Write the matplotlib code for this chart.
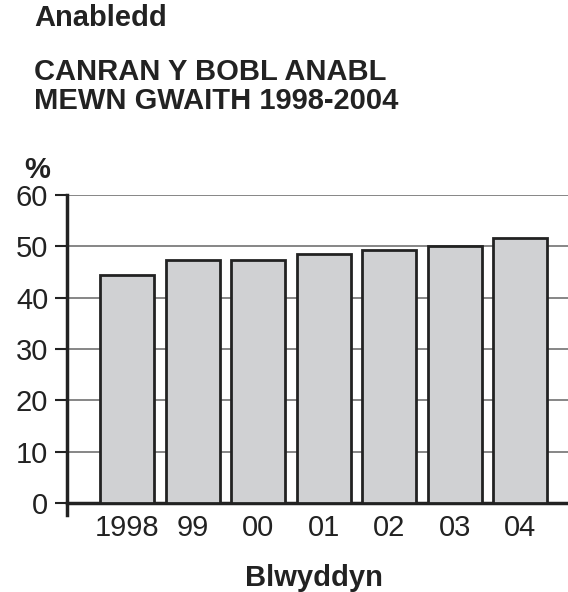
import matplotlib.pyplot as plt

plt.rcParams['font.family'] = ['Liberation Sans', 'DejaVu Sans']

# 데이터
years = ['1998', '99', '00', '01', '02', '03', '04']
percent = [44.3, 47.4, 47.3, 48.5, 49.2, 50.0, 51.5]
yticks = [0, 10, 20, 30, 40, 50, 60]

fig = plt.figure(figsize=(5.68, 5.92), dpi=100)
ax = fig.add_axes([0.118, 0.150, 0.882, 0.521])

ax.bar(range(len(years)), percent, width=0.83, color='#d0d1d3',
       edgecolor='#222222', linewidth=2, zorder=3)

ax.set_ylim(0, 60)
ax.set_xlim(-0.92, 6.73)
ax.set_yticks(yticks)
ax.set_xticks(range(len(years)))
ax.set_xticklabels(years)
ax.yaxis.grid(True, color='#666666', linewidth=1.1, zorder=0)
ax.set_axisbelow(True)

ax.tick_params(axis='y', length=8.5, width=1.5, pad=5, labelsize=21, color='#222222',
               labelcolor='#222222')
ax.tick_params(axis='x', length=0, pad=8, labelsize=21, labelcolor='#222222')

for s in ['top', 'right']:
    ax.spines[s].set_visible(False)
ax.spines['left'].set_linewidth(2.5)
ax.spines['bottom'].set_linewidth(2.5)
ax.spines['left'].set_color('#222222')
ax.spines['bottom'].set_color('#222222')
ax.spines['left'].set_bounds(-2.2, 60)

fig.text(0.060, 0.969, 'Anabledd', fontsize=21, fontweight='bold', va='center', color='#222222')
fig.text(0.060, 0.878, 'CANRAN Y BOBL ANABL', fontsize=21, fontweight='bold', va='center', color='#222222')
fig.text(0.060, 0.829, 'MEWN GWAITH 1998-2004', fontsize=21, fontweight='bold', va='center', color='#222222')
fig.text(0.042, 0.713, '%', fontsize=21, fontweight='bold', va='center', color='#222222')
fig.text(0.553, 0.024, 'Blwyddyn', fontsize=21, fontweight='bold', ha='center', va='center', color='#222222')

fig.savefig('out.png', dpi=100)
